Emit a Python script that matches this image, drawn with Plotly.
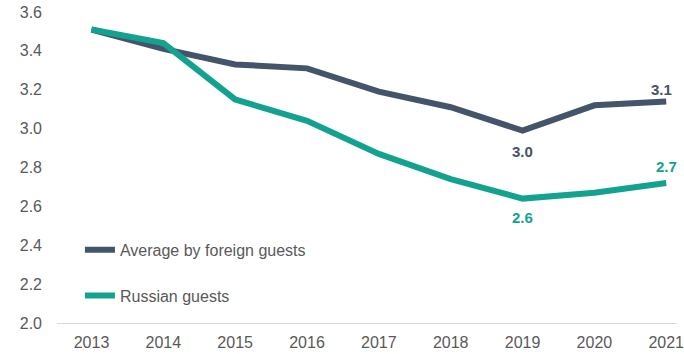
import plotly.graph_objects as go

years = [2013, 2014, 2015, 2016, 2017, 2018, 2019, 2020, 2021]
avg_foreign = [3.51, 3.41, 3.33, 3.31, 3.19, 3.11, 2.99, 3.12, 3.14]
russian = [3.51, 3.44, 3.15, 3.04, 2.87, 2.74, 2.64, 2.67, 2.72]

# Years whose values are annotated: vertical offset (px) of each label
avg_label_shift = {2019: -21, 2021: 12}
rus_label_shift = {2019: -19, 2021: 17}

y_ticks = [2.0, 2.2, 2.4, 2.6, 2.8, 3.0, 3.2, 3.4, 3.6]

DARK = "#44546A"
TEAL = "#14A290"
GREY = "#595959"
FONT = "Liberation Sans, Arial, sans-serif"

fig = go.Figure()

for i, (name, values, color, shifts) in enumerate([
    ("Average by foreign guests", avg_foreign, DARK, avg_label_shift),
    ("Russian guests", russian, TEAL, rus_label_shift),
]):
    fig.add_trace(go.Scatter(
        x=years, y=values, name=name,
        mode="lines",
        line=dict(color=color, width=6),
        legendgroup=f"g{i}",
        cliponaxis=False,
    ))
    for yr, dy in shifts.items():
        v = values[years.index(yr)]
        fig.add_annotation(
            x=yr, y=v, text=f"{v:.1f}", showarrow=False,
            yshift=dy, xshift=-5 if (yr == 2021 and dy < 15) else 0,
            font=dict(color=color, size=15, family=FONT, weight="bold"),
        )

fig.update_layout(
    width=684, height=354,
    margin=dict(l=57, r=0, t=12, b=31),
    paper_bgcolor="white", plot_bgcolor="white",
    font=dict(family=FONT, color=GREY, size=16),
    showlegend=True,
    legend=dict(
        x=0.037, y=0.29, xanchor="left", yanchor="top",
        bgcolor="rgba(0,0,0,0)",
        font=dict(size=16, color=GREY),
        tracegroupgap=22,
        itemwidth=30,
    ),
)

fig.update_xaxes(
    range=[2012.52, 2021.15],
    tickmode="array", tickvals=years, ticktext=[str(y) for y in years],
    showgrid=False, zeroline=False,
    showline=True, linecolor="#D9D9D9", linewidth=1,
    ticks="", ticklabelstandoff=5,
    ticklabeloverflow="allow",
    tickfont=dict(size=16, color=GREY),
)

fig.update_yaxes(
    range=[2.0, 3.6],
    tickmode="array", tickvals=y_ticks,
    ticktext=[f"{v:.1f}" for v in y_ticks],
    showgrid=False, zeroline=False, showline=False,
    ticks="", ticklabelstandoff=14,
    tickfont=dict(size=16, color=GREY),
)

fig.write_html("out.html")
